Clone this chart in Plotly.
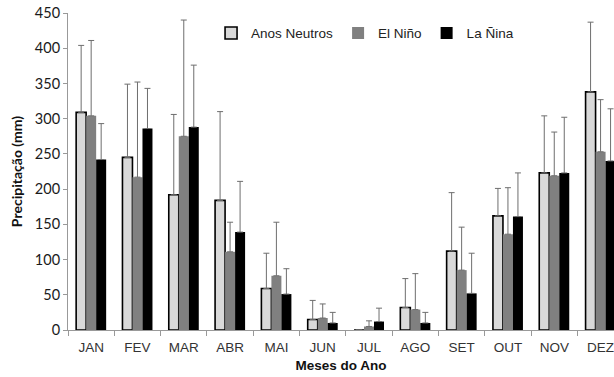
import plotly.graph_objects as go

# Monthly mean precipitation (mm) and standard deviations by ENSO phase
meses = ["JAN", "FEV", "MAR", "ABR", "MAI", "JUN", "JUL", "AGO", "SET", "OUT", "NOV", "DEZ"]

neutros = [309, 245, 192, 184, 59, 15, 0, 32, 112, 162, 223, 338]
neutros_dp = [95, 104, 114, 126, 50, 27, 0, 41, 83, 39, 81, 99]

el_nino = [304, 217, 275, 111, 77, 17, 5, 29, 85, 136, 219, 253]
el_nino_dp = [107, 135, 165, 42, 76, 20, 8, 51, 61, 66, 62, 74]

la_nina = [242, 286, 288, 139, 51, 10, 12, 10, 52, 161, 223, 240]
la_nina_dp = [51, 57, 88, 72, 36, 15, 19, 15, 57, 62, 79, 74]

series = [
    ("Anos Neutros", neutros, neutros_dp, "#d9d9d9", "#000000", 1.6),
    ("El Niño", el_nino, el_nino_dp, "#808080", "#808080", 0),
    ("La Ñina", la_nina, la_nina_dp, "#000000", "#000000", 0),
]

fig = go.Figure()
for nome, vals, dp, cor, borda, lw in series:
    fig.add_trace(go.Bar(
        name=nome,
        x=meses,
        y=vals,
        marker=dict(color=cor, line=dict(color=borda, width=lw)),
        error_y=dict(
            type="data",
            symmetric=False,
            array=dp,
            arrayminus=[0] * len(dp),
            color="#6e6e6e",
            thickness=1,
            width=3,
        ),
    ))

fig.update_layout(
    width=614,
    height=377,
    margin=dict(l=68, r=0, t=13, b=47),
    paper_bgcolor="white",
    plot_bgcolor="white",
    barmode="group",
    bargap=0.352,
    bargroupgap=0,
    font=dict(family="Liberation Sans, Arial, sans-serif", color="#222"),
    legend=dict(
        orientation="h",
        x=0.262,
        y=0.985,
        xanchor="left",
        yanchor="top",
        font=dict(size=13.5, color="#222"),
        bgcolor="rgba(0,0,0,0)",
        itemwidth=30,
        tracegroupgap=0,
    ),
    xaxis=dict(
        range=[-0.5, 11.29],
        showline=True,
        linecolor="#999999",
        linewidth=1,
        ticks="outside",
        tickson="boundaries",
        ticklen=5,
        tickcolor="#999999",
        ticklabelstandoff=5,
        tickfont=dict(family="Liberation Sans, Arial, sans-serif", size=13.5, color="#333"),
        showgrid=False,
        zeroline=False,
        title=dict(
            text="<b>Meses do Ano</b>",
            font=dict(family="Liberation Sans, Arial, sans-serif", size=13.5, color="#111"),
            standoff=6,
        ),
    ),
    yaxis=dict(
        range=[0, 450],
        dtick=50,
        showline=True,
        linecolor="#999999",
        linewidth=1,
        ticks="outside",
        ticklen=4,
        tickcolor="#999999",
        tickfont=dict(family="Lato, sans-serif", size=14.5, color="#1a1a1a"),
        showgrid=False,
        zeroline=False,
        title=dict(
            text="<b>Precipitação (mm)</b>",
            font=dict(family="Lato, sans-serif", size=14, color="#111"),
            standoff=8,
        ),
    ),
)

fig.write_html("out.html")
